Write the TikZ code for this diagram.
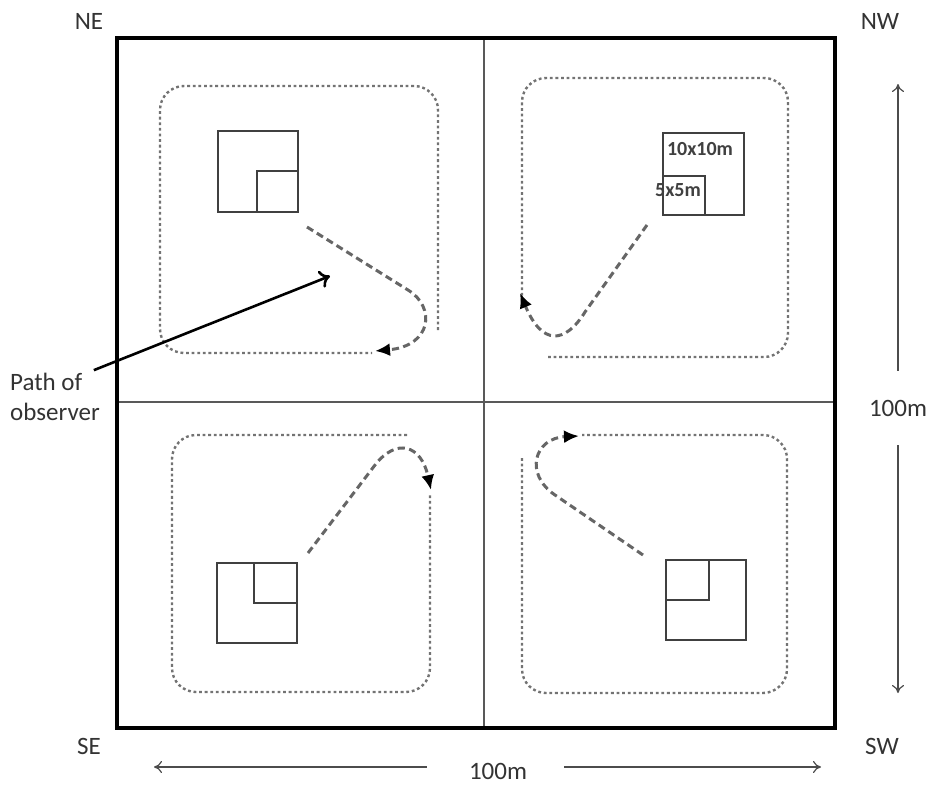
\documentclass[tikz,border=0pt]{standalone}
\usepackage{fontspec}
\setmainfont{Carlito}
\usetikzlibrary{arrows.meta}

\begin{document}
\begin{tikzpicture}[x=0.5pt,y=-0.5pt,
  lbl/.style={font=\fontsize{12.5}{15}\selectfont, text=black!80},
  plotlbl/.style={font=\fontsize{10}{12}\selectfont\bfseries, text=black!75, inner sep=0pt},
  walk/.style={draw=black!55, line width=1.2pt, dash pattern=on 1.4pt off 1.4pt, rounded corners=12pt},
  route/.style={draw=black!60, line width=1.5pt, dash pattern=on 3.6pt off 2.2pt, -{Latex[length=7.5pt,width=6.5pt,black]}},
  plot/.style={draw=black!75, line width=0.7pt},
  dim/.style={draw=black!70, line width=0.6pt, -{To[length=4pt,width=6pt]}}]
 \useasboundingbox (0,0) rectangle (932,787);
 % frame and quarters
 \draw[black!65, line width=0.7pt] (484,38) -- (484,728);
 \draw[black!65, line width=0.7pt] (117,402) -- (835,402);
 \draw[line width=2pt] (117,38) rectangle (835,728);
 \node[lbl] (ne) at (89,21) {NE};
 \node[lbl] (nw) at (880,21) {NW};
 \node[lbl] (se) at (89,746) {SE};
 \node[lbl] (sw) at (882,746) {SW};
 % NE quarter
 \draw[walk] (438,330) -- (438,86) -- (160,86) -- (160,353) -- (372,353);
 \draw[plot] (218,131) rectangle (298,212);
 \draw[plot] (257,171) rectangle (298,212);
 \draw[route] (307,227) -- (408,290) .. controls (436,307) and (432,346) .. (375,351);
 % NW quarter
 \draw[walk] (548,357) -- (788,357) -- (788,78) -- (522,78) -- (522,306);
 \draw[plot] (663,133) rectangle (744,215);
 \draw[plot] (663,176) rectangle (705,215);
 \node[plotlbl] (big) at (700,149) {10x10m};
 \node[plotlbl] (small) at (678,190) {5x5m};
 \draw[route] (647,225) -- (585,312) .. controls (565,344) and (542,346) .. (520,293);
 % SE quarter
 \draw[walk] (407,435) -- (172,435) -- (172,692) -- (430,692) -- (430,494);
 \draw[plot] (217,563) rectangle (297,643);
 \draw[plot] (254,563) rectangle (297,603);
 \draw[route] (308,553) -- (375,465) .. controls (396,438) and (421,444) .. (431,490);
 % SW quarter
 \draw[walk] (522,458) -- (522,693) -- (787,693) -- (787,435) -- (582,435);
 \draw[plot] (666,560) rectangle (746,640);
 \draw[plot] (666,560) rectangle (709,600);
 \draw[route] (643,555) -- (555,495) .. controls (524,474) and (534,438) .. (579,436);
 % observer
 \node[lbl, align=left] (obs) at (55,397) {Path of\\observer};
 \coordinate (obsend) at (330,276);
 \draw[line width=1.3pt, -{To[length=5pt,width=9pt]}] (obs.north east) ++(-13,4) -- (obsend);
 % dimensions
 \node[lbl] (vlen) at (898,408) {100m};
 \node[lbl] (hlen) at (498,771) {100m};
 \coordinate (vtop) at (898,84);
 \coordinate (vbot) at (898,693);
 \coordinate (hleft) at (154,767);
 \coordinate (hright) at (821,767);
 \draw[dim] (vlen.north) ++(0,-22) -- (vtop);
 \draw[dim] (vlen.south) ++(0,22) -- (vbot);
 \draw[dim] (hlen.west) ++(-35,-4) -- (hleft);
 \draw[dim] (hlen.east) ++(30,-4) -- (hright);
\end{tikzpicture}
\end{document}
